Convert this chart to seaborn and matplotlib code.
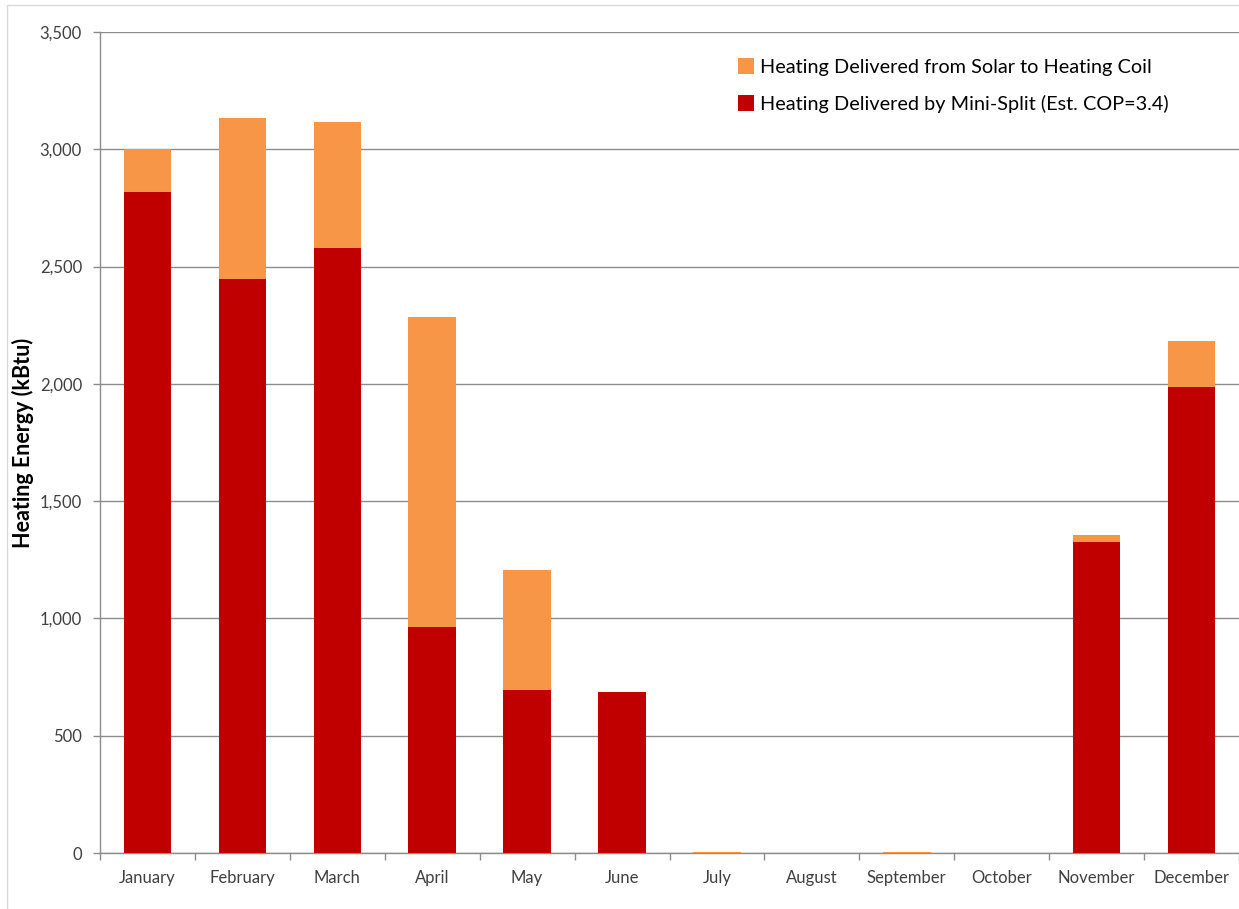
import matplotlib
matplotlib.use("Agg")
import matplotlib.pyplot as plt
import matplotlib.ticker as mticker
from matplotlib.patches import Rectangle
from matplotlib.lines import Line2D
import numpy as np
import pandas as pd
import seaborn as sns

months = ["January", "February", "March", "April", "May", "June",
          "July", "August", "September", "October", "November", "December"]
mini_split = [2820, 2447, 2579, 963, 695, 686, 0, 0, 0, 0, 1327, 1987]
solar_coil = [180, 686, 537, 1322, 511, 0, 5, 0, 5, 0, 29, 196]

series_names = ["Heating Delivered from Solar to Heating Coil",
                "Heating Delivered by Mini-Split (Est. COP=3.4)"]
solar_color = "#F79646"
split_color = "#C00000"
grid_color = "#8C8C8C"
text_color = "#404040"

df = pd.DataFrame({"month": months,
                   "mini_split": mini_split,
                   "solar": solar_coil})
df["total"] = df["mini_split"] + df["solar"]

sns.set_theme(style="white")
plt.rcParams["font.family"] = ["Lato", "DejaVu Sans"]

fig = plt.figure(figsize=(12.39, 9.09), dpi=100)
ax = fig.add_axes([100 / 1239, 1 - 853 / 909, 1 - 100 / 1239, (853 - 32) / 909])

# Stacked bars: full height in orange, mini-split portion on top in red
sns.barplot(data=df, x="month", y="total", color=solar_color, width=0.5,
            saturation=1, ax=ax, zorder=3)
sns.barplot(data=df, x="month", y="mini_split", color=split_color, width=0.5,
            saturation=1, ax=ax, zorder=4)
for p in ax.patches:
    p.set_linewidth(0)

ax.set_ylim(0, 3500)
ax.set_xlim(-0.5, 11.5)
ax.yaxis.set_major_locator(mticker.MultipleLocator(500))
ax.yaxis.set_major_formatter(mticker.FuncFormatter(lambda v, _: f"{int(v):,}"))
ax.grid(axis="y", color=grid_color, linewidth=1, zorder=0)
ax.set_axisbelow(True)

for side in ["top", "right"]:
    ax.spines[side].set_visible(False)
for side in ["left", "bottom"]:
    ax.spines[side].set_color(grid_color)
    ax.spines[side].set_linewidth(1)

ax.set_xlabel("")
ax.set_ylabel("Heating Energy (kBtu)", fontsize=15.5, fontweight="bold",
              color="black", labelpad=4)
ax.tick_params(axis="y", which="major", direction="out", length=5, width=1,
               color=grid_color, labelsize=12, labelcolor=text_color, pad=8, left=True)
ax.tick_params(axis="x", which="major", length=0, labelsize=12,
               labelcolor=text_color, pad=12)
ax.set_xticks(np.arange(-0.5, 12, 1), minor=True)
ax.tick_params(axis="x", which="minor", direction="out", length=5, width=1,
               color=grid_color, bottom=True)

handles = [Line2D([], [], marker="s", linestyle="", markersize=11,
                  markerfacecolor=c, markeredgewidth=0)
           for c in (solar_color, split_color)]
leg = ax.legend(handles, series_names, loc="upper left",
                bbox_to_anchor=(0.541, 0.989), frameon=False, fontsize=14.3,
                handletextpad=0.1, labelspacing=0.95, handlelength=1.2)
for t in leg.get_texts():
    t.set_color("black")

# Thin chart-area frame
fig.patches.append(Rectangle((7 / 1239, -0.01), 1.1, 1 - 5 / 909 + 0.01,
                             transform=fig.transFigure, fill=False,
                             edgecolor="#D9D9D9", linewidth=1, zorder=0))

fig.savefig("out.png", dpi=100, facecolor="white")
